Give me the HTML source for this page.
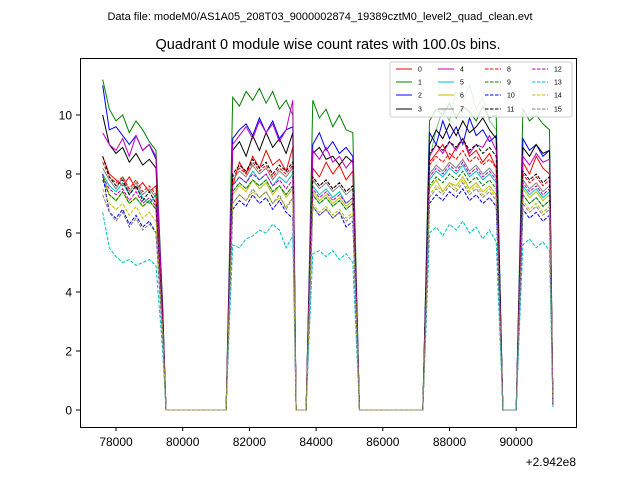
<!DOCTYPE html>
<html><head><meta charset="utf-8"><style>
body{margin:0;background:#fff;}
svg text{font-family:"Liberation Sans","DejaVu Sans",sans-serif;}
</style></head><body>
<svg id="chart" width="640" height="480" xmlns="http://www.w3.org/2000/svg">
<rect width="640" height="480" fill="#fff"/>
<text x="320" y="20" font-size="11" text-anchor="middle">Data file: modeM0/AS1A05_208T03_9000002874_19389cztM0_level2_quad_clean.evt</text>
<text x="328" y="49" font-size="14.5" text-anchor="middle">Quadrant 0 module wise count rates with 100.0s bins.</text>
<g id="plot"></g>
<rect x="80.5" y="58.5" width="496" height="369" fill="none" stroke="#000" stroke-width="1"/>
<g id="axes"></g>
<text x="576" y="466" font-size="12" text-anchor="end">+2.942e8</text>
<g id="legend"></g>
</svg>
<script>
const times=[77600,77800,78000,78200,78400,78600,78800,79000,79200,79400,79500,81300,81400,
81500,81700,81900,82100,82300,82500,82700,82900,83100,83300,83400,83700,83800,
83900,84100,84300,84500,84700,84900,85100,85300,87200,87300,
87400,87600,87800,88000,88200,88400,88600,88800,89000,89200,89400,89600,90000,90100,
90200,90400,90600,90800,91000,91100];
const xTicks=[78000,80000,82000,84000,86000,88000,90000];
const yTicks=[0,2,4,6,8,10];
const seriesNames=["0","1","2","3","4","5","6","7","8","9","10","11","12","13","14","15"];
const s0=[8.6,8.0,7.8,7.6,7.9,7.5,7.7,7.4,7.6,3.0,0,0,4.2,7.6,8.4,8.0,8.6,8.2,8.8,8.3,8.5,8.1,8.9,0,0,4.0,8.2,7.9,8.4,8.0,8.3,7.8,8.1,0,0,4.3,8.4,8.7,9.0,8.5,8.9,9.2,8.6,8.8,8.4,8.7,8.2,0,0,4.1,8.4,8.0,8.6,8.2,8.0,0.2];
const s1=[11.2,10.2,9.8,10.0,9.4,9.8,9.5,9.1,8.8,3.5,0,0,5.2,10.6,10.3,10.8,10.5,10.9,10.4,10.8,10.2,10.5,10.0,0,0,5.0,10.5,9.9,10.2,9.6,10.0,9.5,9.4,0,0,5.0,9.8,10.2,10.0,10.4,9.9,10.3,10.1,9.8,10.3,9.9,10.0,0,0,5.0,10.2,9.8,10.0,9.7,9.5,0.3];
const s2=[11.0,9.5,9.6,9.3,9.0,9.3,8.8,9.0,8.5,3.4,0,0,4.8,9.2,9.5,9.7,9.3,9.9,9.4,9.8,9.2,9.5,9.6,0,0,4.6,9.0,9.4,8.8,9.1,8.7,8.9,8.6,0,0,4.7,9.4,9.0,9.8,9.2,9.6,9.0,9.9,9.3,9.5,9.1,9.3,0,0,4.6,9.2,8.8,9.0,8.6,8.8,0.2];
const s3=[10.0,9.0,8.7,8.9,8.4,8.7,8.3,8.5,8.2,3.2,0,0,4.5,8.8,9.1,8.6,9.3,8.8,9.4,8.9,9.2,8.7,9.4,0,0,4.4,8.7,8.9,8.5,8.6,8.3,8.6,8.4,0,0,4.5,9.0,9.5,9.2,9.7,9.3,9.8,9.4,9.6,9.9,9.5,9.2,0,0,4.4,8.9,8.6,9.0,8.7,8.8,0.2];
const s4=[9.4,9.0,8.8,9.2,8.6,9.3,8.8,9.0,8.6,3.1,0,0,4.6,9.0,9.3,9.6,9.2,9.8,9.4,9.7,9.1,9.5,10.5,0,0,4.5,8.8,8.5,8.9,8.4,8.6,8.2,8.5,0,0,4.4,8.6,9.0,8.7,9.1,8.8,9.2,8.7,9.0,8.9,9.3,8.8,0,0,4.4,8.6,8.3,8.7,8.4,8.5,0.2];
const s5=[8.0,7.6,7.4,7.7,7.3,7.6,7.2,7.0,7.3,2.8,0,0,3.9,7.6,7.9,7.7,8.1,7.8,8.0,7.6,7.9,7.7,8.0,0,0,3.8,7.6,7.3,7.5,7.2,7.4,7.0,7.2,0,0,3.8,7.8,8.1,7.9,8.2,8.0,8.3,7.9,8.1,7.8,8.0,7.7,0,0,3.8,7.6,7.3,7.5,7.2,7.4,0.2];
const s6=[8.0,7.3,7.1,7.4,7.0,7.2,6.9,7.1,6.8,2.7,0,0,3.8,7.3,7.6,7.4,7.8,7.5,7.7,7.3,7.6,7.2,7.5,0,0,3.7,7.4,7.1,7.3,7.0,7.2,6.9,7.1,0,0,3.7,7.5,7.8,7.4,7.7,7.6,7.9,7.5,7.7,7.4,7.6,7.3,0,0,3.7,7.5,7.2,7.4,7.1,7.3,0.2];
const s7=[8.2,7.8,7.5,7.9,7.4,7.7,7.3,7.5,7.2,2.9,0,0,4.0,7.8,8.1,7.9,8.3,8.0,8.2,7.8,8.1,7.9,8.2,0,0,3.9,7.8,7.5,7.7,7.4,7.6,7.3,7.5,0,0,3.9,8.0,8.3,8.1,8.4,8.2,8.5,8.1,8.3,8.0,8.2,7.9,0,0,3.9,7.8,7.5,7.7,7.4,7.6,0.2];
const s8=[8.4,7.9,7.7,7.9,7.5,7.8,7.4,7.6,7.3,3.0,0,0,4.1,7.9,8.2,8.0,8.4,8.1,8.3,7.9,8.2,8.0,8.3,0,0,4.0,7.9,7.6,7.8,7.5,7.7,7.4,7.6,0,0,4.0,8.3,8.6,8.4,8.7,8.5,8.8,8.4,8.6,8.3,8.5,8.2,0,0,4.0,8.0,7.7,7.9,7.6,7.8,0.2];
const s9=[7.8,7.3,7.1,7.4,7.0,7.2,6.9,7.1,6.8,2.7,0,0,3.8,7.4,7.7,7.5,7.8,7.6,7.8,7.4,7.6,7.3,7.6,0,0,3.7,7.3,7.0,7.2,6.9,7.1,6.8,7.0,0,0,3.7,7.6,7.9,7.7,8.0,7.8,8.1,7.7,7.9,7.6,7.8,7.5,0,0,3.7,7.3,7.0,7.2,6.9,7.1,0.2];
const s10=[8.0,6.7,6.5,6.8,6.3,6.6,6.2,6.4,6.0,2.5,0,0,3.4,6.8,7.1,6.9,7.3,7.0,7.2,6.8,7.1,6.7,6.5,0,0,3.3,6.9,6.6,6.8,6.5,6.7,6.2,6.4,0,0,3.4,7.0,7.3,7.1,7.4,7.2,7.5,7.1,7.3,7.0,7.2,6.9,0,0,3.3,6.8,6.5,6.7,6.4,6.6,0.2];
const s11=[8.6,7.9,7.6,7.8,7.3,7.6,7.1,7.4,7.0,2.9,0,0,4.1,8.0,8.3,8.1,8.5,8.2,8.4,8.0,8.3,8.1,8.4,0,0,4.0,7.9,7.6,7.8,7.5,7.7,7.4,7.6,0,0,4.0,8.7,9.0,8.8,9.1,8.9,9.2,8.8,9.0,8.7,8.9,8.6,0,0,4.0,8.1,7.8,8.0,7.7,7.9,0.2];
const s12=[7.9,7.5,7.3,7.5,7.1,7.4,7.0,7.2,6.9,2.8,0,0,3.9,7.6,7.9,7.7,8.0,7.8,8.0,7.6,7.8,7.5,7.8,0,0,3.8,7.5,7.2,7.4,7.1,7.3,7.0,7.2,0,0,3.8,7.9,8.2,8.0,8.3,8.1,8.4,8.0,8.2,7.9,8.1,7.8,0,0,3.8,7.7,7.4,7.6,7.3,7.5,0.2];
const s13=[6.7,5.5,5.2,5.0,5.1,4.9,5.0,5.1,4.9,2.0,0,0,2.9,5.6,5.5,5.8,5.9,6.1,6.0,6.3,6.1,5.5,5.9,0,0,2.7,5.3,5.4,5.2,5.4,5.1,5.3,5.0,0,0,2.9,6.0,6.2,5.9,6.3,6.1,6.4,6.0,6.2,5.8,6.1,5.7,0,0,2.8,5.6,5.8,5.5,5.7,5.4,0.1];
const s14=[7.5,7.0,6.8,7.0,6.6,6.9,6.5,6.7,6.4,2.6,0,0,3.6,7.0,7.3,7.1,7.4,7.2,7.4,7.0,7.2,6.9,7.2,0,0,3.5,7.0,6.7,6.9,6.6,6.8,6.5,6.7,0,0,3.5,7.3,7.6,7.4,7.7,7.5,7.8,7.4,7.6,7.3,7.5,7.2,0,0,3.5,7.1,6.8,7.0,6.7,6.9,0.2];
const s15=[7.3,6.7,6.4,6.7,6.2,6.5,6.1,6.3,6.0,2.4,0,0,3.5,7.0,7.3,7.1,7.5,7.2,7.4,7.0,7.3,6.8,7.2,0,0,3.5,6.9,6.6,6.8,6.5,6.7,6.4,6.6,0,0,3.4,7.2,7.5,7.3,7.6,7.4,7.7,7.3,7.5,7.2,7.4,7.1,0,0,3.4,7.0,6.7,6.9,6.6,6.8,0.2];
const sExtra=[7.8,7.3,7.1,7.4,7.0,7.2,6.9,7.1,6.8,2.7,0,0,3.8,7.4,7.7,7.5,7.8,7.6,7.8,7.4,7.6,7.3,7.6,0,0,3.7,7.3,7.0,7.2,6.9,7.1,6.8,7.0,0,0,3.7,8.5,9.5,10.2,9.8,10.8,10.5,11.0,10.2,10.6,9.8,9.5,0,0,3.7,7.3,7.0,7.2,6.9,7.1,0.2];

const allSeries=[s0,s1,s2,s3,s4,s5,s6,s7,s8,s9,s10,s11,s12,s13,s14,s15];
const colors=["#ff0000","#008000","#0000ff","#000000","#bf00bf","#00bfbf","#bfbf00","#808080","#ff0000","#008000","#0000ff","#000000","#bf00bf","#00bfbf","#bfbf00","#808080"];
const NS="http://www.w3.org/2000/svg";
function xPos(v){return 116+(v-78000)*0.03335;}
function yPos(v){return 410-29.5*v;}
const plot=document.getElementById('plot');
function drawLine(vals,color,dashed,name,op){
  const p=document.createElementNS(NS,'polyline');
  p.setAttribute('points',vals.map((v,i)=>xPos(times[i]).toFixed(1)+','+yPos(v).toFixed(1)).join(' '));
  p.setAttribute('fill','none');p.setAttribute('stroke',color);p.setAttribute('stroke-width','1');
  if(dashed)p.setAttribute('stroke-dasharray','3.5,1.5');
  if(op)p.setAttribute('stroke-opacity',op);
  
  
  plot.appendChild(p);
}
drawLine(sExtra,"#4caf50",false,'series-extra-line',0.75);
allSeries.forEach((s,i)=>drawLine(s,colors[i],i>=8,'series-'+i+'-line'));
const axes=document.getElementById('axes');
xTicks.forEach(t=>{
  const x=xPos(t);
  const l=document.createElementNS(NS,'line');
  l.setAttribute('x1',x);l.setAttribute('x2',x);l.setAttribute('y1',427);l.setAttribute('y2',431);l.setAttribute('stroke','#000');
  
  
  axes.appendChild(l);
  const tx=document.createElementNS(NS,'text');
  tx.setAttribute('x',x);tx.setAttribute('y',446);tx.setAttribute('font-size','12');tx.setAttribute('text-anchor','middle');
  tx.textContent=t;
  
  
  axes.appendChild(tx);
});
yTicks.forEach(t=>{
  const y=yPos(t);
  const l=document.createElementNS(NS,'line');
  l.setAttribute('x1',76);l.setAttribute('x2',80);l.setAttribute('y1',y);l.setAttribute('y2',y);l.setAttribute('stroke','#000');
  
  
  axes.appendChild(l);
  const tx=document.createElementNS(NS,'text');
  tx.setAttribute('x',72);tx.setAttribute('y',y+4.5);tx.setAttribute('font-size','12');tx.setAttribute('text-anchor','end');
  tx.textContent=t;
  
  
  axes.appendChild(tx);
});
const leg=document.getElementById('legend');
const box=document.createElementNS(NS,'rect');
box.setAttribute('x',390);box.setAttribute('y',62);box.setAttribute('width',182);box.setAttribute('height',55);box.setAttribute('rx',2);
box.setAttribute('fill','#fff');box.setAttribute('fill-opacity','0.8');box.setAttribute('stroke','#ccc');


leg.appendChild(box);
const colX=[396,438,485,532];
const rowY=[69,82,95,109];
seriesNames.forEach((n,i)=>{
  const c=Math.floor(i/4),r=i%4;
  const l=document.createElementNS(NS,'line');
  l.setAttribute('x1',colX[c]);l.setAttribute('x2',colX[c]+16);l.setAttribute('y1',rowY[r]);l.setAttribute('y2',rowY[r]);
  l.setAttribute('stroke',colors[i]);l.setAttribute('stroke-width','1');
  if(i>=8)l.setAttribute('stroke-dasharray','3.5,1.5');
  
  
  leg.appendChild(l);
  const tx=document.createElementNS(NS,'text');
  tx.setAttribute('x',colX[c]+22);tx.setAttribute('y',rowY[r]+2.5);tx.setAttribute('font-size','7');
  tx.textContent=n;
  
  
  leg.appendChild(tx);
});
</script>
</body></html>
